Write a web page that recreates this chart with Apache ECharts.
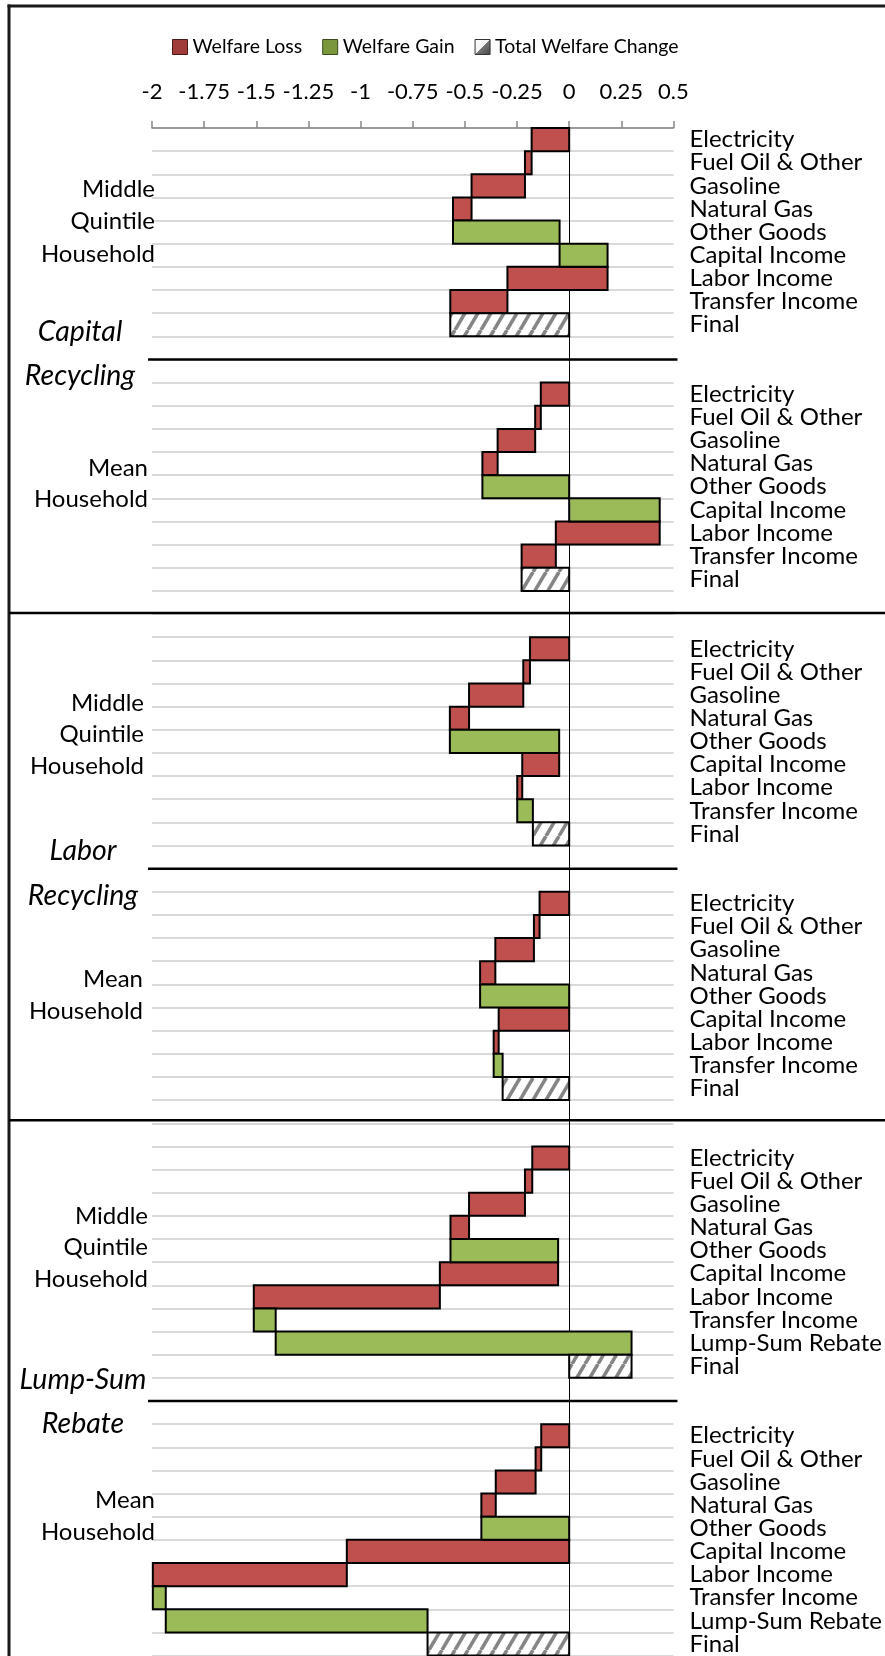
<!DOCTYPE html>
<html>
<head>
<meta charset="utf-8">
<script src="https://cdn.jsdelivr.net/npm/echarts@6/dist/echarts.min.js"></script>
<style>
html,body{margin:0;padding:0;background:#fff;}
#main{width:885px;height:1656px;}
</style>
</head>
<body>
<div id="main"></div>
<script>
// ---------------- DATA ----------------
const categories = ['Electricity','Fuel Oil & Other','Gasoline','Natural Gas','Other Goods','Capital Income','Labor Income','Transfer Income'];
const categoriesLumpSum = categories.concat(['Lump-Sum Rebate']);
const finalLabel = 'Final';
// welfare change contributions (waterfall steps)
const capitalMiddle = [-0.180, -0.032, -0.256, -0.089, 0.511, 0.230, -0.480, -0.274];
const capitalMean   = [-0.136, -0.027, -0.180, -0.073, 0.416, 0.434, -0.498, -0.164];
const laborMiddle   = [-0.188, -0.032, -0.260, -0.092, 0.524, -0.177, -0.024, 0.075];
const laborMean     = [-0.142, -0.027, -0.185, -0.073, 0.427, -0.338, -0.024, 0.043];
const lumpMiddle    = [-0.177, -0.035, -0.268, -0.089, 0.516, -0.567, -0.892, 0.105, 1.706];
const lumpMean      = [-0.134, -0.027, -0.191, -0.069, 0.421, -1.066, -0.930, 0.062, 1.255];
const xMin = -2, xMax = 0.5, xStep = 0.25;
const legendNames = ['Welfare Loss','Welfare Gain','Total Welfare Change'];
const householdMiddle = ['Middle','Quintile','Household'];
const householdMean = ['Mean','Household'];
const scenarioTitles = [['Capital','Recycling'],['Labor','Recycling'],['Lump-Sum','Rebate']];

// ---------------- LAYOUT ----------------
const totalRows = 66;
const panels = [
  {start:0,  cats:categories,        vals:capitalMiddle},
  {start:11, cats:categories,        vals:capitalMean},
  {start:22, cats:categories,        vals:laborMiddle},
  {start:33, cats:categories,        vals:laborMean},
  {start:44, cats:categoriesLumpSum, vals:lumpMiddle},
  {start:56, cats:categoriesLumpSum, vals:lumpMean}
];

const rowLabels = new Array(totalRows).fill('');
const lossData = [], gainData = [], totalData = [];
panels.forEach(p => {
  let run = 0;
  p.cats.forEach((c, i) => {
    rowLabels[p.start + i] = c;
    const v = p.vals[i];
    const item = [run, run + v, p.start + i];
    (v < 0 ? lossData : gainData).push(item);
    run += v;
  });
  rowLabels[p.start + p.cats.length] = finalLabel;
  totalData.push([0, run, p.start + p.cats.length]);
});

function makeHatch(){
  const W = 13, H = 22;
  const c = document.createElement('canvas');
  c.width = W; c.height = H;
  const g = c.getContext('2d');
  g.fillStyle = '#ffffff'; g.fillRect(0,0,W,H);
  g.strokeStyle = '#858585'; g.lineWidth = 3.6;
  [-W, 0, W].forEach(dx => {
    g.beginPath(); g.moveTo(dx, H); g.lineTo(dx + W, 0); g.stroke();
  });
  return c;
}
const hatch = {image: makeHatch(), repeat: 'repeat'};

const RED = '#c0504d', GREEN = '#9bbb59';
function makeRender(fill){
  return function(params, api){
    const a = api.coord([api.value(0), api.value(2)]);
    const b = api.coord([api.value(1), api.value(2)]);
    const h = api.size([0, 1])[1];
    return {
      type:'rect',
      shape:{x:Math.min(a[0], b[0]), y:a[1] - h/2, width:Math.abs(b[0] - a[0]), height:h},
      style:{fill:fill, stroke:'#000', lineWidth:2}
    };
  };
}

const FONT = 'Lato';
const chart = echarts.init(document.getElementById('main'), null, {renderer:'canvas'});
const option = {
  animation:false,
  backgroundColor:'#ffffff',
  textStyle:{fontFamily:FONT},
  legend:{
    left:172, top:37, padding:0, itemWidth:15, itemHeight:15, itemGap:20, icon:'rect',
    textStyle:{fontSize:19.5, color:'#000', fontFamily:FONT},
    data:[
      {name:legendNames[0], itemStyle:{color:'#a03c39', borderColor:'#4a1a19', borderWidth:1}},
      {name:legendNames[1], itemStyle:{color:'#7a973c', borderColor:'#3a4a1c', borderWidth:1}},
      {name:legendNames[2], itemStyle:{color:{type:'linear',x:0,y:0,x2:1,y2:1,colorStops:[{offset:0,color:'#fff'},{offset:0.5,color:'#f4f4f4'},{offset:0.5,color:'#777'},{offset:1,color:'#444'}]}, borderColor:'#333', borderWidth:1}}
    ]
  },
  grid:{left:152, right:208, top:128, bottom:-3, containLabel:false},
  xAxis:{
    type:'value', position:'top', min:xMin, max:xMax, interval:xStep,
    axisLine:{show:true, onZero:false, lineStyle:{color:'#868686', width:1.5}},
    axisTick:{show:true, length:7, lineStyle:{color:'#868686', width:1.5}},
    axisLabel:{fontSize:22, color:'#000', margin:25, fontFamily:FONT},
    splitLine:{show:false}
  },
  yAxis:[
    {
      type:'category', inverse:true, data:rowLabels, position:'right',
      axisLine:{show:false, onZero:false}, axisTick:{show:false},
      axisLabel:{interval:0, fontSize:24, color:'#000', margin:16, fontFamily:FONT, padding:[6,0,0,0]},
      splitLine:{show:true, interval:0, lineStyle:{color:'#d9d9d9', width:2}}
    },
    {
      type:'category', inverse:true, data:rowLabels, position:'left',
      axisLine:{show:true, onZero:true, lineStyle:{color:'#000', width:1}},
      axisTick:{show:false}, axisLabel:{show:false}, splitLine:{show:false}
    }
  ],
  series:[
    {name:legendNames[0], type:'custom', yAxisIndex:0, z:3, renderItem:makeRender(RED), encode:{x:[0,1], y:2}, data:lossData, itemStyle:{color:'#a03c39'}},
    {name:legendNames[1], type:'custom', yAxisIndex:0, z:3, renderItem:makeRender(GREEN), encode:{x:[0,1], y:2}, data:gainData, itemStyle:{color:'#7a973c'}},
    {name:legendNames[2], type:'custom', yAxisIndex:0, z:3, renderItem:makeRender(hatch), encode:{x:[0,1], y:2}, data:totalData, itemStyle:{color:'#999'}}
  ]
};
chart.setOption(option);

// ---------- annotations positioned through the axes ----------
const yc = i => chart.convertToPixel({yAxisIndex:0}, i);
const band = yc(1) - yc(0);
const yb = b => yc(0) + (b - 0.5) * band;
const xp = v => chart.convertToPixel({xAxisIndex:0}, v);

const g = [];
// outer frame (top + left)
g.push({type:'line', z:20, shape:{x1:7.5, y1:6, x2:890, y2:6}, style:{stroke:'#1a1a1a', lineWidth:3}});
g.push({type:'line', z:20, shape:{x1:9, y1:4.5, x2:9, y2:1700}, style:{stroke:'#1a1a1a', lineWidth:3}});
// section separators (full width)
[[21,-1],[43,-3]].forEach(([b,off]) => {
  g.push({type:'line', z:20, shape:{x1:9, y1:yb(b)+off, x2:890, y2:yb(b)+off}, style:{stroke:'#000', lineWidth:2.5}});
});
// panel separators
[10, 32, 55].forEach(b => {
  g.push({type:'line', z:20, shape:{x1:xp(xMin)-4, y1:yb(b), x2:xp(xMax)+4, y2:yb(b)}, style:{stroke:'#000', lineWidth:2.5}});
});
// household labels
const sideCfg = [
  {lines:householdMiddle, rows:[2.65,4.05,5.45], right:155},
  {lines:householdMean,   rows:[3.7,5.04],       right:148},
  {lines:householdMiddle, rows:[2.84,4.21,5.57], right:144},
  {lines:householdMean,   rows:[3.76,5.17],      right:143},
  {lines:householdMiddle, rows:[3.02,4.35,5.72], right:148},
  {lines:householdMean,   rows:[3.3,4.67],       right:155}
];
sideCfg.forEach((c, pi) => {
  c.lines.forEach((t, k) => {
    g.push({type:'text', z:20, x:c.right, y:yb(panels[pi].start) + c.rows[k]*band,
      style:{text:t, fontSize:24, fontFamily:FONT, fill:'#000', align:'right', verticalAlign:'middle'}});
  });
});
// scenario titles
const titleCfg = [
  {b:10, dy:[-1.2, 0.7], cx:80},
  {b:32, dy:[-0.77, 1.18], cx:83},
  {b:55, dy:[-0.93, 1.0], cx:83}
];
titleCfg.forEach((c, si) => {
  scenarioTitles[si].forEach((t, k) => {
    g.push({type:'text', z:20, x:c.cx, y:yb(c.b) + c.dy[k]*band,
      style:{text:t, fontSize:28.5, fontStyle:'italic', fontFamily:FONT, fill:'#000', align:'center', verticalAlign:'middle'}});
  });
});
chart.setOption({graphic:{elements:g}});
</script>
</body>
</html>
